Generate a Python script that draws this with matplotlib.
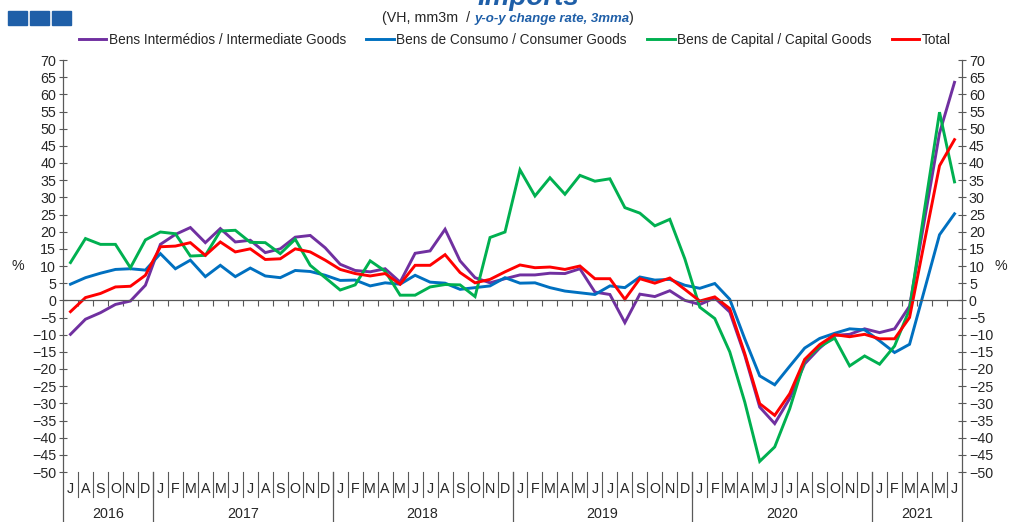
import matplotlib
matplotlib.use('Agg')
import matplotlib.pyplot as plt
from matplotlib.patches import Rectangle
from matplotlib.transforms import blended_transform_factory

plt.rcParams['font.family'] = ['Liberation Sans', 'DejaVu Sans']

# ── Dados (VH, mm3m, %) — jul/2016 a jun/2021 ────────────────────────────────
MESES = list('JASOND') + list('JFMAMJJASOND') * 4 + list('JFMAMJ')
ANOS = ['2016', '2017', '2018', '2019', '2020', '2021']
MESES_POR_ANO = [6, 12, 12, 12, 12, 6]

intermedios = [
    -9.9, -5.5, -3.6, -1.2, -0.2, 4.4,
    16.3, 19.2, 21.2, 16.8, 20.9, 17.0, 17.5, 13.9, 15.0, 18.4, 18.9, 15.3,
    10.5, 8.7, 8.3, 9.2, 5.3, 13.7, 14.4, 20.7, 11.5, 6.6, 5.1, 6.3,
    7.4, 7.4, 7.9, 7.8, 9.2, 2.4, 1.7, -6.5, 1.8, 1.1, 2.8, 0.0,
    -1.2, 0.7, -3.4, -16.0, -31.1, -35.9, -28.6, -18.5, -13.9, -10.2, -9.9, -8.3,
    -9.4, -8.3, -1.7, 23.5, 48.7, 63.5,
]
consumo = [
    4.7, 6.6, 7.9, 9.0, 9.2, 8.8,
    13.6, 9.2, 11.7, 6.9, 10.2, 6.9, 9.4, 7.1, 6.6, 8.7, 8.4, 7.3,
    5.8, 5.9, 4.2, 5.1, 4.7, 7.3, 5.3, 5.0, 3.2, 3.7, 4.2, 6.6,
    5.0, 5.1, 3.7, 2.7, 2.2, 1.7, 4.2, 3.7, 6.8, 5.9, 6.1, 4.4,
    3.5, 4.9, 0.3, -11.2, -22.0, -24.6, -19.2, -13.9, -11.1, -9.6, -8.3, -8.6,
    -11.8, -15.2, -12.8, 3.1, 19.1, 25.2,
]
capital = [
    11.0, 18.0, 16.3, 16.3, 9.5, 17.6,
    19.9, 19.4, 12.9, 13.1, 20.2, 20.4, 16.9, 16.8, 13.6, 17.8, 10.2, 6.6,
    3.0, 4.5, 11.5, 8.5, 1.5, 1.5, 3.9, 4.6, 4.5, 1.1, 18.3, 19.9,
    38.0, 30.4, 35.7, 30.9, 36.4, 34.7, 35.4, 27.0, 25.4, 21.7, 23.6, 12.1,
    -2.0, -5.3, -15.0, -29.6, -46.9, -42.7, -31.6, -17.5, -13.5, -11.0, -19.1, -16.2,
    -18.6, -13.3, -2.6, 26.5, 54.8, 34.5,
]
total = [
    -3.3, 0.8, 2.0, 3.9, 4.1, 7.3,
    15.6, 15.8, 16.8, 13.1, 17.0, 14.1, 15.0, 11.9, 12.1, 15.0, 14.1, 11.7,
    9.0, 7.8, 7.1, 7.8, 4.7, 10.2, 10.2, 13.3, 8.1, 5.1, 6.1, 8.3,
    10.3, 9.5, 9.7, 9.0, 10.0, 6.3, 6.3, 0.3, 6.3, 5.0, 6.5, 3.2,
    -0.2, 1.0, -2.4, -15.5, -30.1, -33.5, -27.2, -17.2, -12.9, -10.0, -10.6, -9.9,
    -11.2, -11.2, -5.0, 17.2, 39.2, 46.8,
]

SERIES = [
    ('Bens Intermédios / Intermediate Goods', intermedios, '#7030A0'),
    ('Bens de Consumo / Consumer Goods', consumo, '#0070C0'),
    ('Bens de Capital / Capital Goods', capital, '#00B050'),
    ('Total', total, '#FF0000'),
]

COR_TEXTO = '#262626'
COR_EIXO = '#595959'
AZUL_TITULO = '#1F5FA8'
FS = 10.3

# ── Figura ───────────────────────────────────────────────────────────────────
W, H = 1009, 522
fig = plt.figure(figsize=(W / 100, H / 100), dpi=100)
ax = fig.add_axes([63 / W, 1 - 472 / H, (962 - 63) / W, 412 / H])

x = list(range(len(MESES)))
for nome, vals, cor in SERIES:
    ax.plot(x, vals, color=cor, lw=2.1, label=nome, solid_joinstyle='miter')

ax.set_xlim(-0.5, len(MESES) - 0.5)
ax.set_ylim(-50, 70)
ax.set_yticks(range(-50, 71, 5))
ax.tick_params(axis='y', which='both', direction='inout', length=6, width=0.8,
               color=COR_EIXO, labelsize=FS, labelcolor=COR_TEXTO,
               left=True, right=True, labelleft=True, labelright=True, pad=2)

# eixo x na linha do zero, com marcas nos limites de cada mês
ax.spines['top'].set_visible(False)
ax.spines['bottom'].set_position(('data', 0))
for s in ['left', 'right', 'bottom']:
    ax.spines[s].set_color(COR_EIXO)
    ax.spines[s].set_linewidth(0.9)
ax.set_xticks([k + 0.5 for k in range(len(MESES) - 1)])
ax.tick_params(axis='x', direction='out', length=4, width=0.8,
               color=COR_EIXO, labelbottom=False)

# ── Rótulos de meses e anos por baixo do gráfico ─────────────────────────────
trans = blended_transform_factory(ax.transData, ax.transAxes)
h_ax = 412.0
for i, m in enumerate(MESES):
    ax.text(i, -(489 - 472) / h_ax, m, transform=trans, ha='center', va='center',
            fontsize=FS, color=COR_TEXTO)
    if i < len(MESES) - 1:
        ax.plot([i + 0.5, i + 0.5], [0, -25 / h_ax], transform=trans,
                color=COR_EIXO, lw=0.8, clip_on=False)

inicio = 0
bordas = [-0.5]
for ano, n in zip(ANOS, MESES_POR_ANO):
    centro = inicio + (n - 1) / 2
    ax.text(centro, -(514 - 472) / h_ax, ano, transform=trans, ha='center',
            va='center', fontsize=FS, color=COR_TEXTO)
    inicio += n
    bordas.append(inicio - 0.5)
for b in bordas:
    ax.plot([b, b], [0, -50 / h_ax], transform=trans, color=COR_EIXO,
            lw=0.9, clip_on=False)

# ── Textos e legenda ─────────────────────────────────────────────────────────
fig.text(18 / W, 1 - 266 / H, '%', ha='center', va='center', fontsize=FS,
         color=COR_TEXTO)
fig.text(1001 / W, 1 - 266 / H, '%', ha='center', va='center', fontsize=FS,
         color=COR_TEXTO)

fig.text(528 / W, 1 - 5 / H, 'Imports', ha='center', va='baseline', fontsize=20,
         fontweight='bold', fontstyle='italic', color=AZUL_TITULO)

t1 = fig.text(382 / W, 1 - 18 / H, '(VH, mm3m  / ', ha='left', va='center',
              fontsize=FS, color=COR_TEXTO)
t2 = ax.annotate('y-o-y change rate, 3mma', xy=(1, 0), xycoords=t1,
                 ha='left', va='bottom', fontsize=9.5, fontweight='bold',
                 fontstyle='italic', color=AZUL_TITULO, annotation_clip=False)
ax.annotate(')', xy=(1, 0), xycoords=t2, ha='left', va='bottom',
            fontsize=FS, color=COR_TEXTO, annotation_clip=False)

for x0 in [8, 30, 52]:
    fig.patches.append(Rectangle((x0 / W, 1 - 25 / H), 19 / W, 14 / H,
                                 transform=fig.transFigure, color=AZUL_TITULO))

handles, labels = ax.get_legend_handles_labels()
fig.legend(handles, labels, loc='center', bbox_to_anchor=(515 / W, 1 - 40 / H),
           ncol=4, frameon=False, fontsize=9.8, handlelength=2.0,
           handletextpad=0.2, columnspacing=1.5, borderaxespad=0,
           labelcolor=COR_TEXTO)

fig.savefig('out.png', dpi=100)
